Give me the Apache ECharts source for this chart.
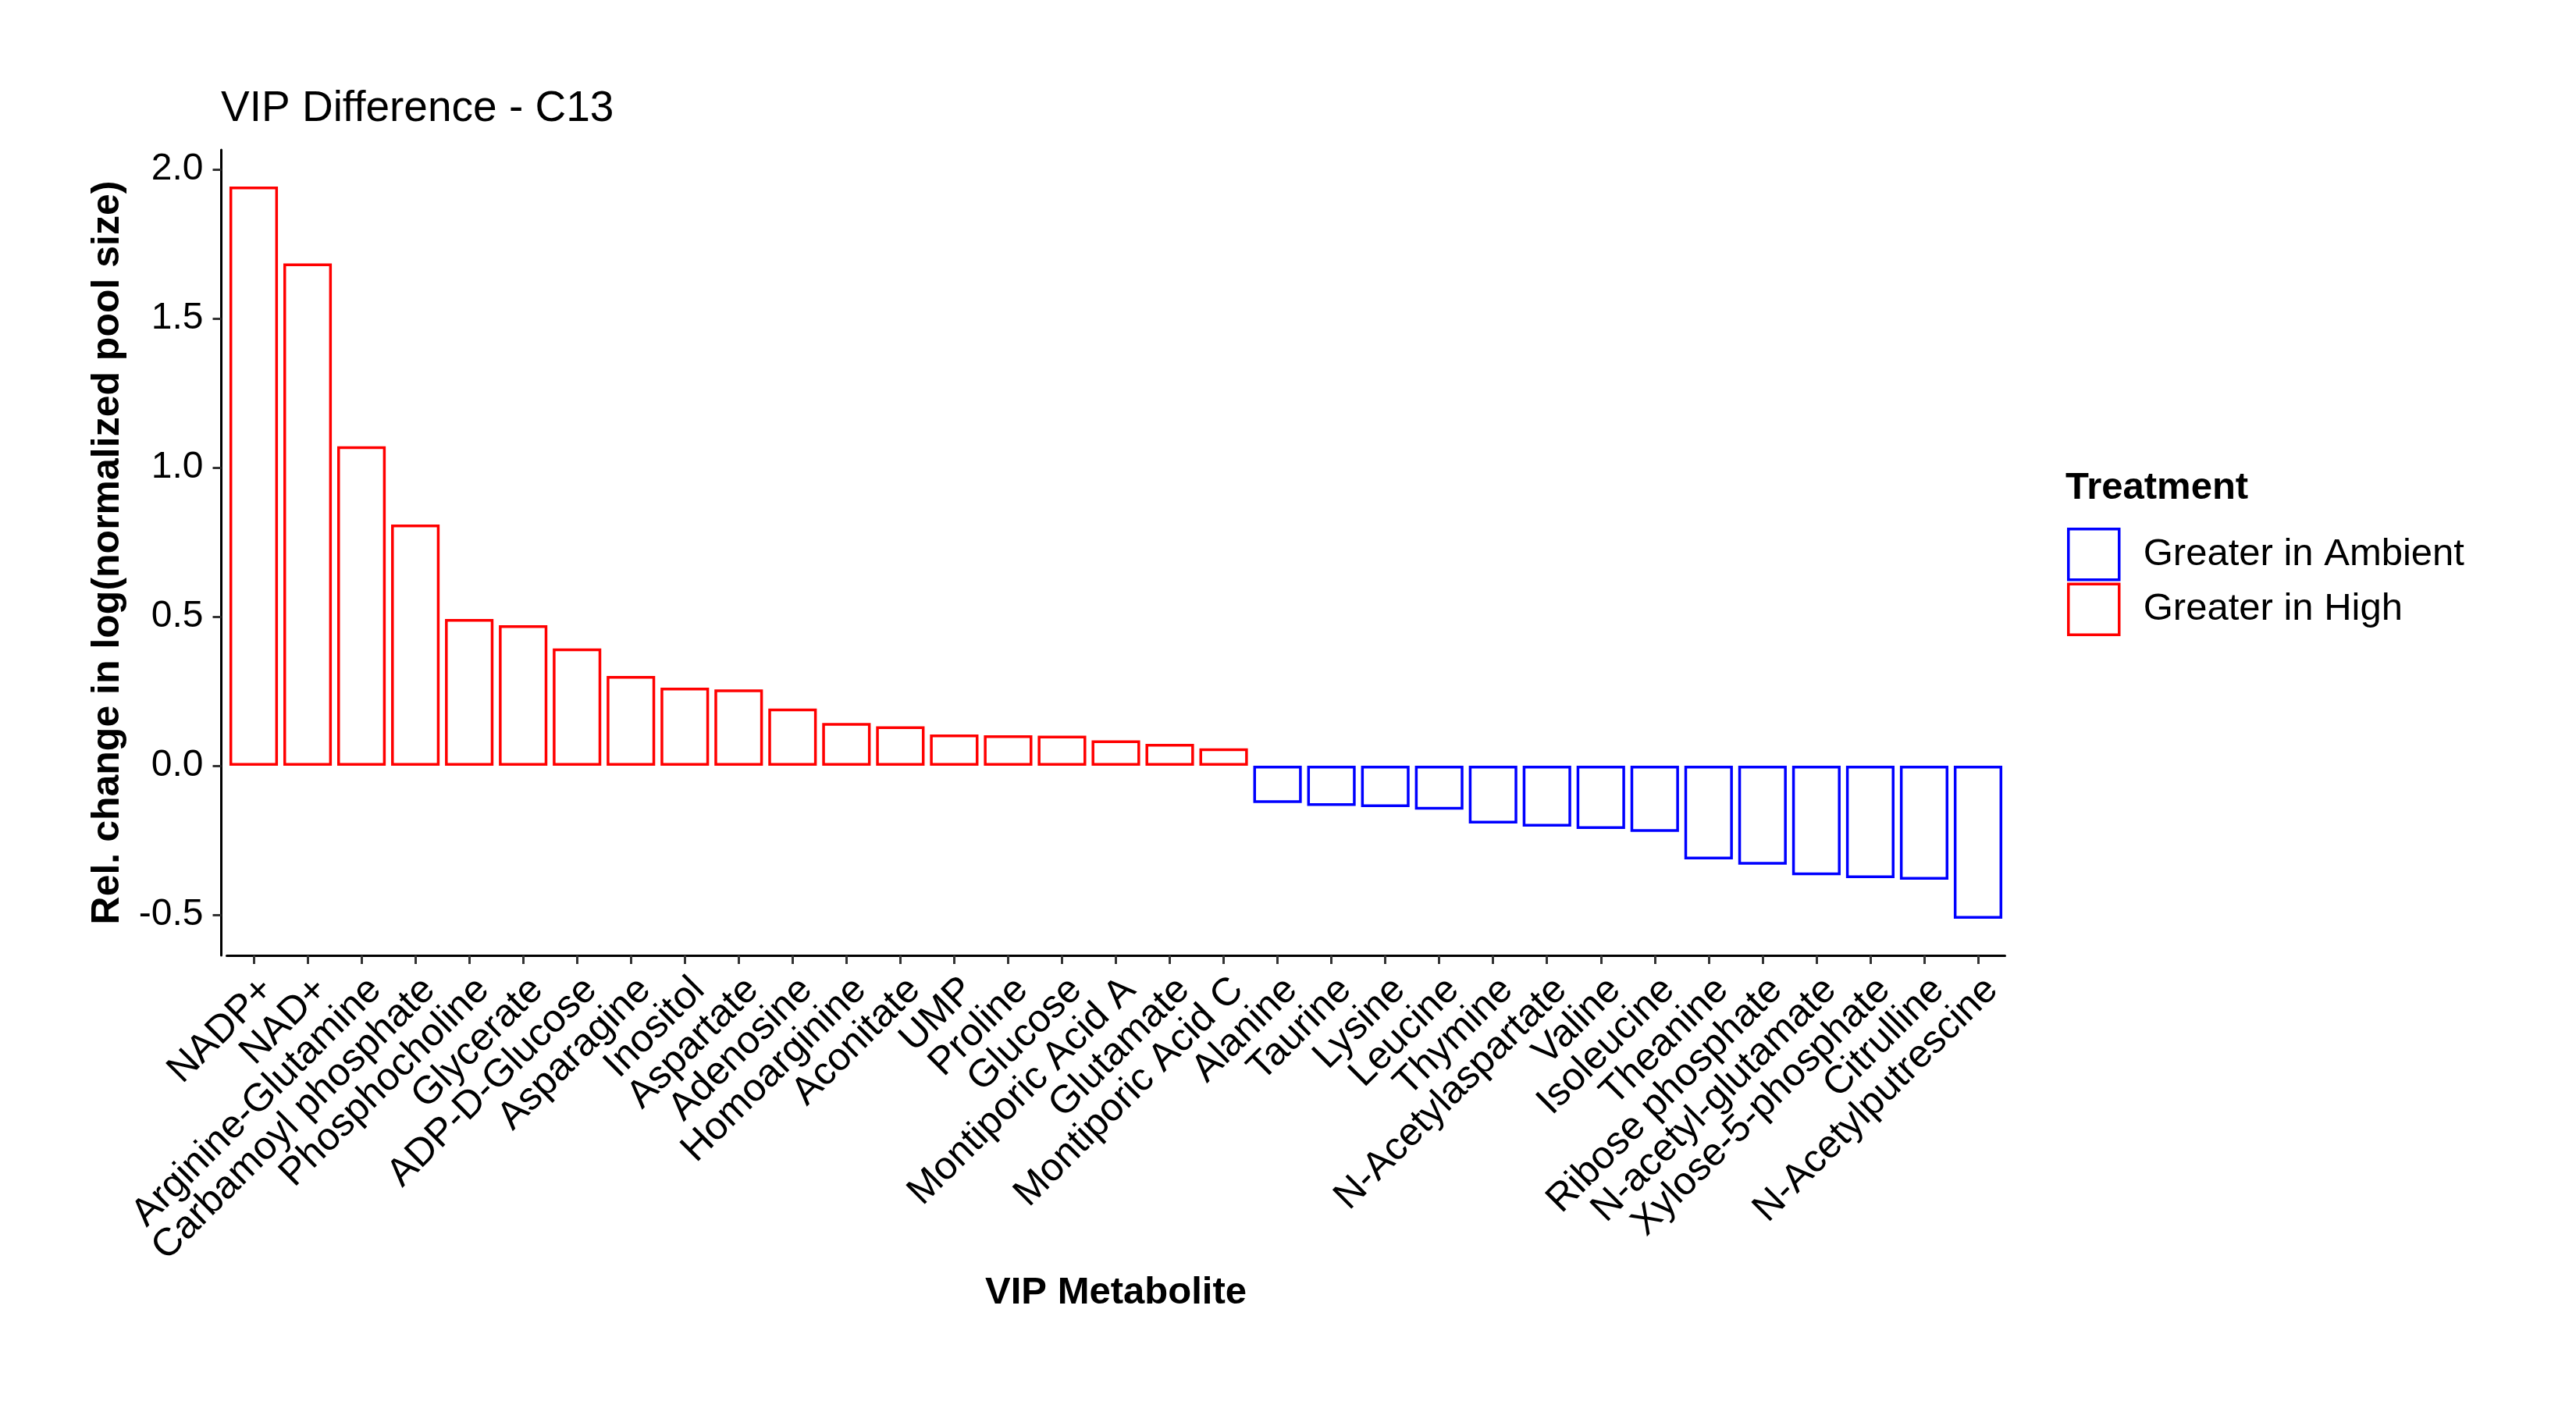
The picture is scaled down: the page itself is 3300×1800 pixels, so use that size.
<!DOCTYPE html>
<html>
<head>
<meta charset="utf-8">
<script src="https://cdn.jsdelivr.net/npm/echarts@6/dist/echarts.min.js"></script>
<style>
html,body{margin:0;padding:0;background:#fff;}
#chart{width:3300px;height:1800px;}
</style>
</head>
<body>
<div id="chart"></div>
<script>
const categories = ["NADP+","NAD+","Arginine-Glutamine","Carbamoyl phosphate","Phosphocholine","Glycerate","ADP-D-Glucose","Asparagine","Inositol","Aspartate","Adenosine","Homoarginine","Aconitate","UMP","Proline","Glucose","Montiporic Acid A","Glutamate","Montiporic Acid C","Alanine","Taurine","Lysine","Leucine","Thymine","N-Acetylaspartate","Valine","Isoleucine","Theanine","Ribose phosphate","N-acetyl-glutamate","Xylose-5-phosphate","Citrulline","N-Acetylputrescine"];
const values = [1.942,1.684,1.071,0.809,0.492,0.471,0.393,0.301,0.262,0.256,0.192,0.143,0.132,0.105,0.102,0.101,0.085,0.073,0.058,-0.125,-0.135,-0.139,-0.147,-0.194,-0.204,-0.212,-0.222,-0.314,-0.332,-0.367,-0.377,-0.382,-0.513];
const seriesNames = ["Greater in Ambient","Greater in High"];
const seriesColors = ["#0000FF","#FF0000"];
const yTicks = [-0.5,0,0.5,1,1.5,2];

const ambientData = values.map(v => v < 0 ? v : null);
const highData = values.map(v => v >= 0 ? v : null);

const FONT = "'Liberation Sans', Arial, Helvetica, sans-serif";
const chart = echarts.init(document.getElementById('chart'), null, {renderer:'canvas'});

const option = {
  backgroundColor: '#ffffff',
  animation: false,
  title: [
    {text: 'VIP Difference - C13', left: 283, top: 112, padding: 0,
     textStyle: {fontFamily: FONT, fontSize: 55, fontWeight: 'normal', color: '#000'}},
    {text: 'Treatment', left: 2646, top: 601, padding: 0,
     textStyle: {fontFamily: FONT, fontSize: 49, fontWeight: 'bold', color: '#000'}}
  ],
  legend: {
    orient: 'vertical', left: 2648, top: 676, padding: 0,
    itemWidth: 65, itemHeight: 65, itemGap: 2, selectedMode: false,
    icon: 'rect',
    data: seriesNames.map((n, i) => ({name: n, itemStyle: {color: '#ffffff', borderColor: seriesColors[i], borderWidth: 3.5}})),
    textStyle: {fontFamily: FONT, fontSize: 49, color: '#000', padding: [0,0,0,26]}
  },
  grid: {left: 290.5, right: 731.5, top: 192, bottom: 576, containLabel: false},
  xAxis: {
    type: 'category', data: categories, boundaryGap: true,
    name: 'VIP Metabolite', nameLocation: 'middle', nameGap: 408,
    nameTextStyle: {fontFamily: FONT, fontSize: 49, fontWeight: 'bold', color: '#000'},
    axisLine: {show: true, onZero: false, lineStyle: {color: '#000', width: 3}},
    axisTick: {show: true, alignWithLabel: true, length: 11, lineStyle: {color: '#333333', width: 3}},
    axisLabel: {interval: 0, rotate: 45, align: 'right', verticalAlign: 'top', margin: 19,
      fontFamily: FONT, fontSize: 50, color: '#000', hideOverlap: false},
    splitLine: {show: false}
  },
  yAxis: {
    type: 'value', min: -0.636, max: 2.065, offset: 7,
    name: 'Rel. change in log(normalized pool size)', nameLocation: 'middle', nameGap: 120, nameRotate: 90,
    nameTextStyle: {fontFamily: FONT, fontSize: 50, fontWeight: 'bold', color: '#000'},
    axisLine: {show: true, onZero: false, lineStyle: {color: '#000', width: 3}},
    axisTick: {show: true, length: 11, customValues: yTicks, lineStyle: {color: '#333333', width: 3}},
    axisLabel: {customValues: yTicks, margin: 23, fontFamily: FONT, fontSize: 48, color: '#000',
      formatter: v => v.toFixed(1)},
    splitLine: {show: false}
  },
  series: [
    {name: seriesNames[0], type: 'bar', data: ambientData, barWidth: '90%', barGap: '-100%',
     itemStyle: {color: '#ffffff', borderColor: seriesColors[0], borderWidth: 3.5}},
    {name: seriesNames[1], type: 'bar', data: highData, barWidth: '90%', barGap: '-100%',
     itemStyle: {color: '#ffffff', borderColor: seriesColors[1], borderWidth: 3.5}}
  ]
};
chart.setOption(option);
</script>
</body>
</html>
